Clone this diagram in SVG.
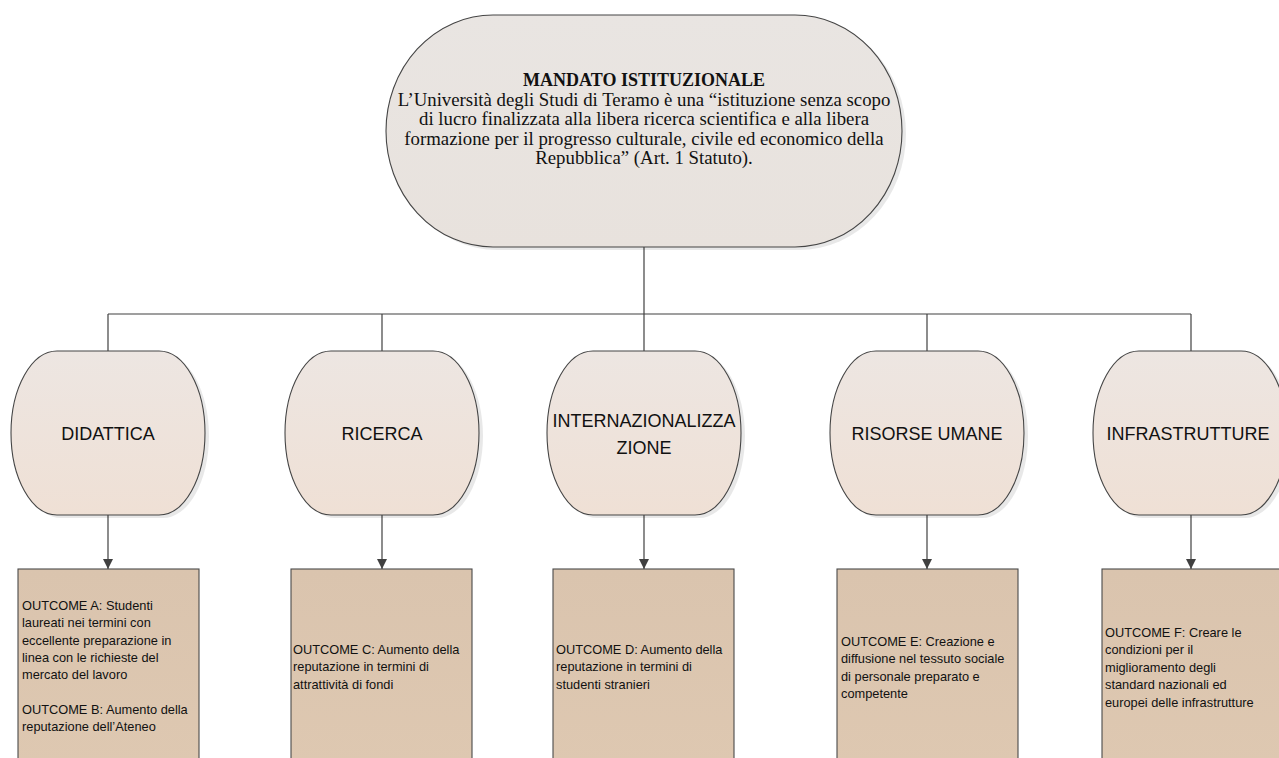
<svg xmlns="http://www.w3.org/2000/svg" width="1279" height="758" viewBox="0 0 1279 758">
<style>
.top{fill:url(#gTop);stroke:#454545;stroke-width:1.1}
.mid{fill:url(#gMid);stroke:#454545;stroke-width:1.1}
.box{fill:url(#gBox);stroke:#4a4a4a;stroke-width:1.1}
.sh{fill:#000;opacity:0.09}
.lbl{font-family:"Liberation Sans",Arial,sans-serif;font-size:18px;fill:#111;text-anchor:middle}
.bt{font-family:"Liberation Sans",Arial,sans-serif;font-size:12.8px;fill:#111}
.tt{font-family:"Liberation Serif","Times New Roman",serif;font-size:18.8px;fill:#111;text-anchor:middle}
.ttb{font-weight:bold;font-size:18px}
.conn{fill:none;stroke:#404040;stroke-width:1.2}
</style>
<defs>
<linearGradient id="gTop" x1="0" y1="0" x2="0" y2="1"><stop offset="0" stop-color="#E9E5E2"/><stop offset="1" stop-color="#E8E2DD"/></linearGradient>
<linearGradient id="gMid" x1="0" y1="0" x2="0" y2="1"><stop offset="0" stop-color="#EDE6E2"/><stop offset="1" stop-color="#EFE0D5"/></linearGradient>
<linearGradient id="gBox" x1="0" y1="0" x2="0" y2="1"><stop offset="0" stop-color="#DAC4AE"/><stop offset="1" stop-color="#DEC8B1"/></linearGradient>
<marker id="arr" viewBox="0 0 10 10" refX="10" refY="5" markerWidth="10" markerHeight="10" markerUnits="userSpaceOnUse" orient="auto"><path d="M0,0 L10,5 L0,10 z" fill="#404040"/></marker>
</defs>

<g id="connectors">
<path class="conn" d="M644,247 V314"/>
<path class="conn" d="M108,314 H1191"/>
<path class="conn" d="M108,314 V351"/>
<path class="conn" d="M382,314 V351"/>
<path class="conn" d="M644,314 V351"/>
<path class="conn" d="M927,314 V351"/>
<path class="conn" d="M1191,314 V351"/>
<path class="conn" d="M108,515 V569" marker-end="url(#arr)"/>
<path class="conn" d="M382,515 V569" marker-end="url(#arr)"/>
<path class="conn" d="M644,515 V569" marker-end="url(#arr)"/>
<path class="conn" d="M927,515 V569" marker-end="url(#arr)"/>
<path class="conn" d="M1191,515 V569" marker-end="url(#arr)"/>
</g>

<g id="mandato">
<path class="sh" d="M497,18 H799 A107,116 0 0 1 799,250 H497 A107,116 0 0 1 497,18 Z"/>
<path class="top" d="M493,15 H795 A107,116 0 0 1 795,247 H493 A107,116 0 0 1 493,15 Z"/>
<text class="tt ttb" x="644" y="86">MANDATO ISTITUZIONALE</text>
<text class="tt" x="644" y="105.5">L’Università degli Studi di Teramo è una “istituzione senza scopo</text>
<text class="tt" x="644" y="125">di lucro finalizzata alla libera ricerca scientifica e alla libera</text>
<text class="tt" x="644" y="144.5">formazione per il progresso culturale, civile ed economico della</text>
<text class="tt" x="644" y="164">Repubblica” (Art. 1 Statuto).</text>
</g>

<g id="didattica">
<path class="sh" d="M61,354 H163 A46,82 0 0 1 163,518 H61 A46,82 0 0 1 61,354 Z"/>
<path class="mid" d="M57,351 H159 A46,82 0 0 1 159,515 H57 A46,82 0 0 1 57,351 Z"/>
<text class="lbl" x="108" y="440">DIDATTICA</text>
</g>

<g id="ricerca">
<path class="sh" d="M335,354 H437 A46,82 0 0 1 437,518 H335 A46,82 0 0 1 335,354 Z"/>
<path class="mid" d="M331,351 H433 A46,82 0 0 1 433,515 H331 A46,82 0 0 1 331,351 Z"/>
<text class="lbl" x="382" y="440">RICERCA</text>
</g>

<g id="internazionalizzazione">
<path class="sh" d="M597,354 H699 A46,82 0 0 1 699,518 H597 A46,82 0 0 1 597,354 Z"/>
<path class="mid" d="M593,351 H695 A46,82 0 0 1 695,515 H593 A46,82 0 0 1 593,351 Z"/>
<text class="lbl" x="644" y="427">INTERNAZIONALIZZA</text>
<text class="lbl" x="644" y="454">ZIONE</text>
</g>

<g id="risorse-umane">
<path class="sh" d="M880,354 H982 A46,82 0 0 1 982,518 H880 A46,82 0 0 1 880,354 Z"/>
<path class="mid" d="M876,351 H978 A46,82 0 0 1 978,515 H876 A46,82 0 0 1 876,351 Z"/>
<text class="lbl" x="927" y="440">RISORSE UMANE</text>
</g>

<g id="infrastrutture">
<path class="sh" d="M1143,354 H1245 A46,82 0 0 1 1245,518 H1143 A46,82 0 0 1 1143,354 Z"/>
<path class="mid" d="M1139,351 H1241 A46,82 0 0 1 1241,515 H1139 A46,82 0 0 1 1139,351 Z"/>
<text class="lbl" x="1188" y="440">INFRASTRUTTURE</text>
</g>

<g id="outcome-ab">
<rect class="box" x="18" y="569" width="181" height="200"/>
<text class="bt"><tspan x="22" y="610">OUTCOME A: Studenti</tspan><tspan x="22" y="627.3">laureati nei termini con</tspan><tspan x="22" y="644.6">eccellente preparazione in</tspan><tspan x="22" y="661.9">linea con le richieste del</tspan><tspan x="22" y="679.2">mercato del lavoro</tspan><tspan x="22" y="714">OUTCOME B: Aumento della</tspan><tspan x="22" y="731.3">reputazione dell’Ateneo</tspan></text>
</g>

<g id="outcome-c">
<rect class="box" x="291" y="569" width="181" height="200"/>
<text class="bt"><tspan x="293" y="654">OUTCOME C: Aumento della</tspan><tspan x="293" y="671.3">reputazione in termini di</tspan><tspan x="293" y="688.6">attrattività di fondi</tspan></text>
</g>

<g id="outcome-d">
<rect class="box" x="553" y="569" width="181" height="200"/>
<text class="bt"><tspan x="556" y="654">OUTCOME D: Aumento della</tspan><tspan x="556" y="671.3">reputazione in termini di</tspan><tspan x="556" y="688.6">studenti stranieri</tspan></text>
</g>

<g id="outcome-e">
<rect class="box" x="837" y="569" width="181" height="200"/>
<text class="bt"><tspan x="841" y="646">OUTCOME E: Creazione e</tspan><tspan x="841" y="663.3">diffusione nel tessuto sociale</tspan><tspan x="841" y="680.6">di personale preparato e</tspan><tspan x="841" y="697.9">competente</tspan></text>
</g>

<g id="outcome-f">
<rect class="box" x="1102" y="569" width="181" height="200"/>
<text class="bt"><tspan x="1105" y="636.5">OUTCOME F: Creare le</tspan><tspan x="1105" y="654">condizioni per il</tspan><tspan x="1105" y="671.5">miglioramento degli</tspan><tspan x="1105" y="689">standard nazionali ed</tspan><tspan x="1105" y="706.5">europei delle infrastrutture</tspan></text>
</g>
</svg>
